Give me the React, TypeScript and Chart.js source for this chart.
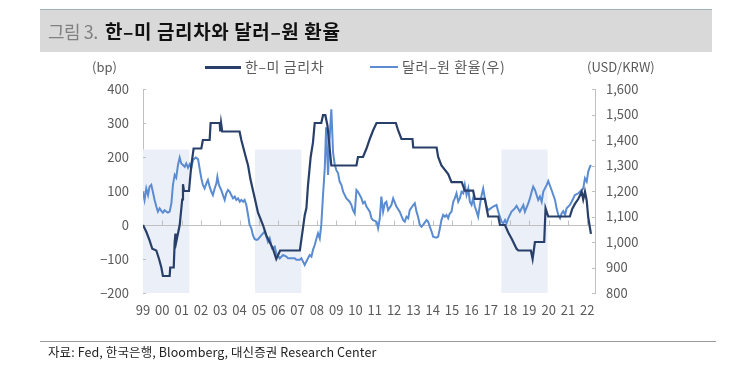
import React, { useEffect, useRef } from "react";
import { Chart, registerables } from "chart.js";

Chart.register(...registerables);

// ---- Data (x = fractional year) ----
const spreadDates = [
  1999.0, 1999.17, 1999.34, 1999.48, 1999.69, 1999.83, 1999.95, 2000.03, 2000.38, 2000.41,
  2000.59, 2000.64, 2000.68, 2000.72, 2000.9, 2001.03, 2001.07, 2001.12, 2001.38, 2001.5,
  2001.62, 2002.02, 2002.1, 2002.45, 2002.5, 2002.97, 2003.0, 2003.04, 2003.1, 2004.0,
  2004.09, 2004.32, 2004.44, 2004.56, 2004.7, 2004.78, 2004.95, 2005.21, 2005.38, 2005.73,
  2005.9, 2006.1, 2007.12, 2007.28, 2007.37, 2007.46, 2007.54, 2007.68, 2007.8, 2007.89,
  2008.23, 2008.32, 2008.44, 2008.55, 2008.75, 2010.05, 2010.13, 2010.39, 2010.57, 2010.74,
  2010.91, 2011.09, 2012.09, 2012.21, 2012.38, 2012.95, 2012.99, 2014.2, 2014.28, 2014.45,
  2014.8, 2014.97, 2015.5, 2015.66, 2016.09, 2016.18, 2016.7, 2016.78, 2016.87, 2017.39,
  2017.48, 2017.74, 2017.91, 2018.08, 2018.34, 2018.43, 2019.08, 2019.17, 2019.29, 2019.77,
  2019.84, 2019.98, 2021.1, 2021.22, 2021.36, 2021.54, 2021.71, 2021.79, 2021.88, 2021.97,
  2022.05, 2022.19,
];
const spreadValues = [
  0, -20, -45, -70, -75, -100, -125, -150, -150, -125,
  -125, -50, -25, -50, 0, 75, 120, 100, 100, 175,
  225, 225, 250, 250, 300, 300, 275, 300, 275, 275,
  250, 200, 175, 135, 100, 80, 37, 0, -30, -70,
  -100, -75, -75, -10, 28, 50, 116, 200, 243, 300,
  300, 323, 323, 292, 175, 175, 200, 200, 225, 253,
  278, 300, 300, 278, 253, 253, 228, 228, 200, 175,
  150, 126, 126, 101, 101, 77, 77, 52, 25, 25,
  0, 0, -22, -40, -70, -75, -75, -100, -50, -50,
  49, 25, 25, 47, 62, 77, 98, 75, 98, 72,
  22, -26,
];

const fxDates = [
  1999.0, 1999.08, 1999.17, 1999.26, 1999.34, 1999.43, 1999.51, 1999.6, 1999.69, 1999.77,
  1999.86, 1999.95, 2000.03, 2000.12, 2000.21, 2000.29, 2000.38, 2000.47, 2000.55, 2000.64,
  2000.72, 2000.81, 2000.9, 2000.98, 2001.07, 2001.16, 2001.24, 2001.33, 2001.42, 2001.5,
  2001.59, 2001.73, 2001.85, 2001.93, 2002.02, 2002.1, 2002.19, 2002.28, 2002.36, 2002.45,
  2002.54, 2002.62, 2002.71, 2002.8, 2002.85, 2002.93, 2003.05, 2003.14, 2003.23, 2003.31,
  2003.4, 2003.49, 2003.57, 2003.66, 2003.75, 2003.83, 2003.92, 2004.01, 2004.09, 2004.18,
  2004.26, 2004.35, 2004.44, 2004.52, 2004.61, 2004.69, 2004.78, 2004.87, 2004.95, 2005.13,
  2005.3, 2005.47, 2005.56, 2005.68, 2005.82, 2005.9, 2006.08, 2006.25, 2006.42, 2006.51,
  2006.68, 2006.85, 2006.94, 2007.11, 2007.2, 2007.37, 2007.54, 2007.63, 2007.72, 2007.8,
  2007.89, 2007.98, 2008.06, 2008.15, 2008.23, 2008.32, 2008.41, 2008.48, 2008.58, 2008.67,
  2008.75, 2008.84, 2008.93, 2009.01, 2009.1, 2009.18, 2009.27, 2009.36, 2009.53, 2009.7,
  2009.79, 2009.87, 2009.96, 2010.05, 2010.13, 2010.31, 2010.39, 2010.48, 2010.57, 2010.74,
  2010.83, 2010.91, 2011.09, 2011.17, 2011.26, 2011.34, 2011.43, 2011.52, 2011.6, 2011.69,
  2011.86, 2011.95, 2012.12, 2012.29, 2012.47, 2012.55, 2012.64, 2012.73, 2012.81, 2012.99,
  2013.07, 2013.16, 2013.24, 2013.33, 2013.42, 2013.5, 2013.68, 2013.76, 2013.85, 2013.94,
  2014.02, 2014.19, 2014.28, 2014.37, 2014.45, 2014.54, 2014.63, 2014.71, 2014.8, 2014.88,
  2014.97, 2015.06, 2015.14, 2015.23, 2015.32, 2015.4, 2015.49, 2015.58, 2015.66, 2015.75,
  2015.84, 2015.92, 2016.01, 2016.09, 2016.18, 2016.27, 2016.35, 2016.44, 2016.53, 2016.61,
  2016.7, 2016.78, 2016.87, 2017.0, 2017.13, 2017.3, 2017.39, 2017.56, 2017.65, 2017.74,
  2017.82, 2017.91, 2018.08, 2018.25, 2018.34, 2018.51, 2018.69, 2018.77, 2018.95, 2019.03,
  2019.12, 2019.2, 2019.29, 2019.46, 2019.55, 2019.64, 2019.72, 2019.9, 2019.98, 2020.15,
  2020.33, 2020.41, 2020.5, 2020.59, 2020.67, 2020.76, 2020.85, 2020.93, 2021.1, 2021.19,
  2021.36, 2021.54, 2021.62, 2021.79, 2021.88, 2021.97, 2022.05, 2022.14, 2022.19,
];
const fxValues = [
  1197, 1165, 1210, 1184, 1217, 1224, 1197, 1165, 1139, 1119,
  1132, 1122, 1115, 1125, 1119, 1115, 1119, 1152, 1224, 1263,
  1252, 1302, 1331, 1308, 1302, 1295, 1308, 1291, 1305, 1289,
  1322, 1331, 1325, 1289, 1250, 1224, 1210, 1230, 1243, 1217,
  1197, 1184, 1210, 1230, 1256, 1224, 1204, 1184, 1165, 1191,
  1204, 1197, 1184, 1171, 1178, 1165, 1171, 1158, 1165, 1158,
  1165, 1145, 1106, 1067, 1054, 1027, 1012, 1008, 1010, 1027,
  1041, 1001, 1015, 975, 982, 956, 936, 949, 943, 936,
  936, 936, 930, 930, 936, 910, 936, 949, 943, 969,
  988, 1014, 1034, 1014, 1067, 1184, 1289, 1450, 1263, 1420,
  1520, 1350, 1302, 1282, 1269, 1237, 1224, 1197, 1171, 1158,
  1145, 1125, 1112, 1204, 1197, 1171, 1152, 1158, 1139, 1119,
  1093, 1086, 1080, 1054, 1093, 1178, 1119, 1152, 1158, 1125,
  1145, 1171, 1139, 1119, 1086, 1080, 1099, 1093, 1125, 1145,
  1152, 1119, 1099, 1067, 1060, 1067, 1086, 1080, 1060, 1041,
  1021, 1017, 1021, 1054, 1086, 1106, 1099, 1106, 1093, 1112,
  1119, 1158, 1171, 1191, 1158, 1171, 1197, 1191, 1224, 1184,
  1210, 1158, 1145, 1171, 1139, 1119, 1099, 1145, 1184, 1210,
  1170, 1140, 1125, 1132, 1139, 1145, 1119, 1080, 1073, 1086,
  1073, 1093, 1119, 1132, 1142, 1119, 1145, 1119, 1152, 1171,
  1197, 1217, 1204, 1165, 1178, 1158, 1197, 1224, 1239, 1204,
  1165, 1132, 1106, 1093, 1112, 1121, 1106, 1132, 1145, 1158,
  1184, 1191, 1197, 1210, 1250, 1237, 1276, 1295, 1302,
];

// shaded periods (fractional years) and their top, in bp
const shadeStarts = [1999.0, 2004.8, 2017.55];
const shadeEnds = [2001.4, 2007.2, 2019.95];
const shadeTop = 222;

const xMin = 1999;
const xMax = 2022.4;
const spreadMin = -200;
const spreadMax = 400;
const fxMin = 800;
const fxMax = 1600;

const seriesNames = ["한–미 금리차", "달러–원 환율(우)"];

const NAVY = "#283f69";
const BLUE = "#5b8bd0";
const SHADE = "#ebeff8";
const AXIS = "#c0c0c0";
const TXT = "#5a5a5a";
const FONT = '"Noto Sans CJK KR", "Noto Sans", sans-serif';

const backdrop = {
  id: "backdrop",
  beforeDatasetsDraw(chart: any) {
    const { ctx, chartArea, scales } = chart;
    const x = scales.x;
    const y = scales.y;
    const y1 = scales.y1;
    ctx.save();
    ctx.fillStyle = SHADE;
    shadeStarts.forEach((s, i) => {
      const a = x.getPixelForValue(s);
      const b = x.getPixelForValue(shadeEnds[i]);
      const t = y.getPixelForValue(shadeTop);
      const bt = y.getPixelForValue(spreadMin);
      ctx.fillRect(a, t, b - a, bt - t);
    });
    ctx.strokeStyle = AXIS;
    ctx.lineWidth = 1;
    ctx.beginPath();
    const y0 = Math.round(y.getPixelForValue(0)) + 0.5;
    ctx.moveTo(chartArea.left, y0);
    ctx.lineTo(chartArea.right, y0);
    for (let yr = Math.ceil(xMin) + 1; yr <= Math.floor(xMax); yr++) {
      const px = Math.round(x.getPixelForValue(yr)) + 0.5;
      ctx.moveTo(px, y0 - 5);
      ctx.lineTo(px, y0);
    }
    y.ticks.forEach((t: any) => {
      const py = Math.round(y.getPixelForValue(t.value)) + 0.5;
      ctx.moveTo(chartArea.left, py);
      ctx.lineTo(chartArea.left + 3, py);
    });
    y1.ticks.forEach((t: any) => {
      const py = Math.round(y1.getPixelForValue(t.value)) + 0.5;
      ctx.moveTo(chartArea.right, py);
      ctx.lineTo(chartArea.right - 3, py);
    });
    ctx.stroke();
    ctx.restore();
  },
};

export default function App() {
  const ref = useRef<HTMLCanvasElement | null>(null);

  useEffect(() => {
    if (!ref.current) return;
    const chart = new Chart(ref.current, {
      type: "line",
      data: {
        datasets: [
          {
            label: seriesNames[0],
            data: spreadDates.map((d, i) => ({ x: d, y: spreadValues[i] })),
            yAxisID: "y",
            borderColor: NAVY,
            borderWidth: 2.2,
            pointRadius: 0,
            tension: 0,
          },
          {
            label: seriesNames[1],
            data: fxDates.map((d, i) => ({ x: d, y: fxValues[i] })),
            yAxisID: "y1",
            borderColor: BLUE,
            borderWidth: 2,
            pointRadius: 0,
            tension: 0,
          },
        ],
      },
      options: {
        responsive: false,
        animation: false,
        layout: { padding: { top: 89, left: 0, right: 0, bottom: 0 } },
        plugins: { legend: { display: false }, tooltip: { enabled: false } },
        scales: {
          x: {
            type: "linear",
            min: xMin,
            max: xMax,
            grid: { display: false, drawTicks: false },
            border: { display: false },
            ticks: {
              stepSize: 1,
              includeBounds: false,
              autoSkip: false,
              maxRotation: 0,
              padding: 9,
              color: TXT,
              font: { family: FONT, size: 13 },
              callback: (v: any) => String(Math.round(Number(v)) % 100).padStart(2, "0"),
            },
            afterFit: (s: any) => {
              s.height = 88;
            },
          },
          y: {
            position: "left",
            min: spreadMin,
            max: spreadMax,
            grid: { display: false, drawTicks: false },
            border: { display: true, color: AXIS, width: 1 },
            ticks: {
              stepSize: 100,
              padding: 14,
              color: TXT,
              font: { family: FONT, size: 13 },
              callback: (v: any) => (Number(v) < 0 ? "\u2212" + Math.abs(Number(v)) : String(v)),
            },
            afterFit: (s: any) => {
              s.width = 143;
            },
          },
          y1: {
            position: "right",
            min: fxMin,
            max: fxMax,
            grid: { display: false, drawTicks: false },
            border: { display: true, color: AXIS, width: 1 },
            ticks: {
              stepSize: 100,
              padding: 11,
              color: TXT,
              font: { family: FONT, size: 13 },
              callback: (v: any) => Number(v).toLocaleString("en-US"),
            },
            afterFit: (s: any) => {
              s.width = 150;
            },
          },
        },
      },
      plugins: [backdrop],
    } as any);
    return () => chart.destroy();
  }, []);

  const abs = (extra: React.CSSProperties): React.CSSProperties => ({
    position: "absolute",
    whiteSpace: "nowrap",
    ...extra,
  });

  return (
    <div
      style={{
        position: "fixed",
        left: 0,
        top: 0,
        width: 745,
        height: 381,
        background: "#ffffff",
        fontFamily: FONT,
        overflow: "hidden",
      }}
    >
      <canvas
        ref={ref}
        width={745}
        height={381}
        style={{ position: "absolute", left: 0, top: 0, width: 745, height: 381 }}
      />
      {/* title bar */}
      <div
        style={abs({
          left: 40,
          top: 9,
          width: 672,
          height: 43,
          background: "#d9d9d9",
          borderTop: "1px solid #a3b0c2",
          boxSizing: "border-box",
        })}
      />
      <div
        style={abs({ left: 48, top: 20, fontSize: 18, lineHeight: "22px", color: "#808080", letterSpacing: "-0.5px" })}
      >
        그림 3.
      </div>
      <div
        style={abs({
          left: 105,
          top: 19,
          fontSize: 19,
          lineHeight: "23px",
          color: "#111",
          fontWeight: 700,
          letterSpacing: "0.6px",
        })}
      >
        한–미 금리차와 달러–원 환율
      </div>
      {/* axis titles & legend */}
      <div style={abs({ left: 92, top: 59, fontSize: 13, lineHeight: "16px", color: TXT })}>(bp)</div>
      <div style={abs({ left: 587, top: 59, fontSize: 13, lineHeight: "16px", color: TXT })}>(USD/KRW)</div>
      <div style={abs({ left: 205, top: 66, width: 36, height: 2.5, background: NAVY })} />
      <div
        style={abs({ left: 245, top: 58, fontSize: 14, lineHeight: "17px", color: TXT, letterSpacing: "0.6px" })}
      >
        {seriesNames[0]}
      </div>
      <div style={abs({ left: 370, top: 66, width: 28, height: 2, background: BLUE })} />
      <div
        style={abs({ left: 402, top: 58, fontSize: 14, lineHeight: "17px", color: TXT, letterSpacing: "0.6px" })}
      >
        {seriesNames[1]}
      </div>
      {/* footer */}
      <div style={abs({ left: 40, top: 341, width: 676, height: 1, background: "#9a9a9a" })} />
      <div
        style={abs({ left: 48, top: 344, fontSize: 12.5, lineHeight: "16px", color: "#222", letterSpacing: "0.1px" })}
      >
        자료: Fed, 한국은행, Bloomberg, 대신증권 Research Center
      </div>
    </div>
  );
}
